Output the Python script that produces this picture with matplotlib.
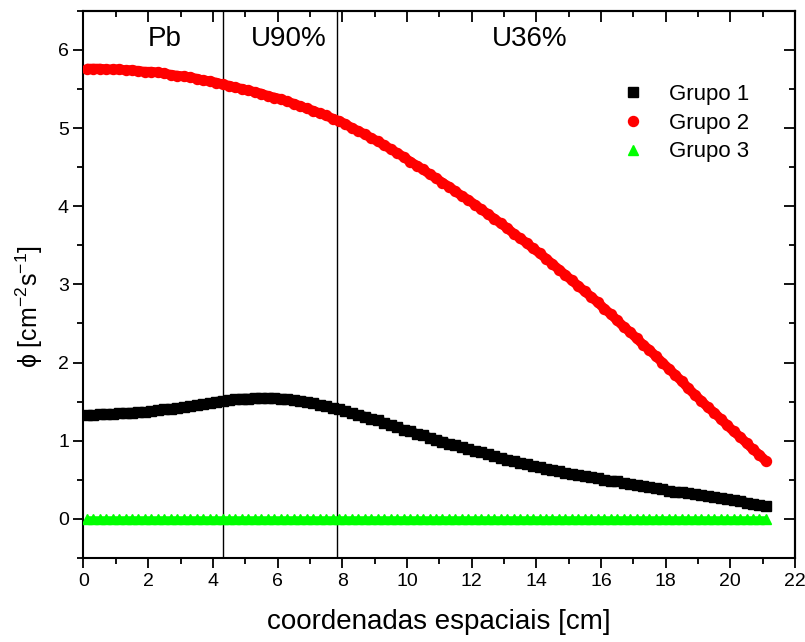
import numpy as np
import matplotlib
matplotlib.use("Agg")
import matplotlib.pyplot as plt
from matplotlib.ticker import MultipleLocator

plt.rcParams['font.family'] = ['Liberation Sans', 'DejaVu Sans']
plt.rcParams['mathtext.fontset'] = 'custom'
plt.rcParams['mathtext.rm'] = 'Liberation Sans'
plt.rcParams['mathtext.default'] = 'regular'

# mesh positions (cm)
x = [0.1, 0.3, 0.5, 0.7, 0.9, 1.1, 1.3, 1.5, 1.7, 1.9,
     2.1, 2.3, 2.5, 2.7, 2.9, 3.1, 3.3, 3.5, 3.7, 3.9,
     4.1, 4.3, 4.5, 4.7, 4.9, 5.1, 5.3, 5.5, 5.7, 5.9,
     6.1, 6.3, 6.5, 6.7, 6.9, 7.1, 7.3, 7.5, 7.7, 7.9,
     8.1, 8.3, 8.5, 8.7, 8.9, 9.1, 9.3, 9.5, 9.7, 9.9,
     10.1, 10.3, 10.5, 10.7, 10.9, 11.1, 11.3, 11.5, 11.7, 11.9,
     12.1, 12.3, 12.5, 12.7, 12.9, 13.1, 13.3, 13.5, 13.7, 13.9,
     14.1, 14.3, 14.5, 14.7, 14.9, 15.1, 15.3, 15.5, 15.7, 15.9,
     16.1, 16.3, 16.5, 16.7, 16.9, 17.1, 17.3, 17.5, 17.7, 17.9,
     18.1, 18.3, 18.5, 18.7, 18.9, 19.1, 19.3, 19.5, 19.7, 19.9,
     20.1, 20.3, 20.5, 20.7, 20.9, 21.1]

grupo1 = [1.33, 1.33, 1.34, 1.34, 1.34, 1.35, 1.35, 1.36, 1.37, 1.37,
          1.38, 1.39, 1.40, 1.41, 1.42, 1.43, 1.44, 1.46, 1.47, 1.48,
          1.50, 1.51, 1.52, 1.53, 1.54, 1.54, 1.55, 1.55, 1.55, 1.55,
          1.54, 1.53, 1.52, 1.51, 1.50, 1.48, 1.46, 1.44, 1.42, 1.40,
          1.38, 1.35, 1.33, 1.31, 1.28, 1.26, 1.23, 1.20, 1.17, 1.14,
          1.12, 1.09, 1.07, 1.04, 1.01, 0.99, 0.96, 0.94, 0.92, 0.89,
          0.87, 0.85, 0.83, 0.80, 0.78, 0.76, 0.74, 0.72, 0.70, 0.68,
          0.66, 0.64, 0.63, 0.61, 0.59, 0.57, 0.56, 0.55, 0.53, 0.52,
          0.50, 0.49, 0.48, 0.46, 0.45, 0.43, 0.42, 0.41, 0.39, 0.38,
          0.36, 0.35, 0.34, 0.33, 0.32, 0.30, 0.29, 0.28, 0.27, 0.26,
          0.24, 0.23, 0.21, 0.19, 0.18, 0.16]

grupo2 = [5.76, 5.76, 5.76, 5.75, 5.75, 5.75, 5.74, 5.74, 5.73, 5.72,
          5.72, 5.71, 5.70, 5.68, 5.67, 5.66, 5.65, 5.63, 5.61, 5.60,
          5.58, 5.56, 5.54, 5.52, 5.50, 5.48, 5.46, 5.44, 5.41, 5.39,
          5.37, 5.34, 5.31, 5.28, 5.25, 5.22, 5.19, 5.16, 5.12, 5.09,
          5.05, 5.00, 4.96, 4.92, 4.87, 4.83, 4.78, 4.73, 4.68, 4.63,
          4.57, 4.52, 4.47, 4.41, 4.36, 4.30, 4.25, 4.19, 4.13, 4.08,
          4.02, 3.96, 3.90, 3.84, 3.78, 3.72, 3.65, 3.59, 3.53, 3.46,
          3.40, 3.33, 3.26, 3.19, 3.12, 3.05, 2.98, 2.91, 2.84, 2.77,
          2.69, 2.62, 2.54, 2.46, 2.39, 2.31, 2.23, 2.16, 2.08, 2.00,
          1.92, 1.84, 1.76, 1.67, 1.59, 1.51, 1.43, 1.36, 1.28, 1.20,
          1.12, 1.05, 0.97, 0.89, 0.82, 0.74]

grupo3 = [0.0, 0.0, 0.0, 0.0, 0.0, 0.0, 0.0, 0.0, 0.0, 0.0,
          0.0, 0.0, 0.0, 0.0, 0.0, 0.0, 0.0, 0.0, 0.0, 0.0,
          0.0, 0.0, 0.0, 0.0, 0.0, 0.0, 0.0, 0.0, 0.0, 0.0,
          0.0, 0.0, 0.0, 0.0, 0.0, 0.0, 0.0, 0.0, 0.0, 0.0,
          0.0, 0.0, 0.0, 0.0, 0.0, 0.0, 0.0, 0.0, 0.0, 0.0,
          0.0, 0.0, 0.0, 0.0, 0.0, 0.0, 0.0, 0.0, 0.0, 0.0,
          0.0, 0.0, 0.0, 0.0, 0.0, 0.0, 0.0, 0.0, 0.0, 0.0,
          0.0, 0.0, 0.0, 0.0, 0.0, 0.0, 0.0, 0.0, 0.0, 0.0,
          0.0, 0.0, 0.0, 0.0, 0.0, 0.0, 0.0, 0.0, 0.0, 0.0,
          0.0, 0.0, 0.0, 0.0, 0.0, 0.0, 0.0, 0.0, 0.0, 0.0,
          0.0, 0.0, 0.0, 0.0, 0.0, 0.0]

# material boundaries and region names
interfaces = [4.3, 7.85]
regions = ['Pb', 'U90%', 'U36%']
region_x = [2.5, 6.35, 13.8]

fig = plt.figure(figsize=(8.05, 6.42), dpi=100)
ax = fig.add_axes([0.1037, 0.1308, 0.8839, 0.8525])

series = [
    (grupo1, 's', 6.6, 'black', 'Grupo 1', 6.8),
    (grupo2, 'o', 7.2, '#ff0000', 'Grupo 2', 7.0),
    (grupo3, '^', 7.0, '#00ff00', 'Grupo 3', 4.0),
]
for ys, mk, ms, col, lab, band in series:
    # thick band behind the markers so the dense mesh reads as one trace
    ax.plot(x, ys, '-', lw=band, color=col, solid_capstyle='butt', zorder=3)
    ax.plot(x, ys, linestyle='none', marker=mk, ms=ms, color=col, mec=col,
            label=lab, zorder=3)

for xi in interfaces:
    ax.axvline(xi, color='black', lw=1.0, zorder=2)

for name, xr in zip(regions, region_x):
    ax.text(xr, 6.14, name, ha='center', va='center', fontsize=20)

ax.set_xlim(0, 22)
ax.set_ylim(-0.5, 6.5)
ax.xaxis.set_major_locator(MultipleLocator(2))
ax.xaxis.set_minor_locator(MultipleLocator(1))
ax.yaxis.set_major_locator(MultipleLocator(1))
ax.yaxis.set_minor_locator(MultipleLocator(0.5))

ax.tick_params(which='both', direction='out', width=1.3, labelsize=14)
ax.tick_params(which='major', length=7)
ax.tick_params(which='minor', length=4)
for sp in ax.spines.values():
    sp.set_linewidth(1.5)

# mirrored ticks on top/right point inward
ax2 = ax.secondary_xaxis('top')
ax2.xaxis.set_major_locator(MultipleLocator(2))
ax2.xaxis.set_minor_locator(MultipleLocator(1))
ax2.tick_params(which='both', direction='in', width=1.3, labeltop=False)
ax2.tick_params(which='major', length=8)
ax2.tick_params(which='minor', length=4.5)
ax2.spines['top'].set_linewidth(1.5)
ay2 = ax.secondary_yaxis('right')
ay2.yaxis.set_major_locator(MultipleLocator(1))
ay2.yaxis.set_minor_locator(MultipleLocator(0.5))
ay2.tick_params(which='both', direction='in', width=1.3, labelright=False)
ay2.tick_params(which='major', length=8)
ay2.tick_params(which='minor', length=4.5)
ay2.spines['right'].set_linewidth(1.5)

ax.set_xlabel('coordenadas espaciais [cm]', fontsize=20, labelpad=14)
ax.set_ylabel(r'$\phi$ [cm$^{-2}$s$^{-1}$]', fontsize=18)
ax.yaxis.set_label_coords(-0.054, 0.46)

ax.legend(loc='upper left', bbox_to_anchor=(0.728, 0.903), frameon=False,
          fontsize=16, handlelength=1.0, handletextpad=1.12, labelspacing=0.35,
          borderpad=0.4)

fig.savefig('out.png', dpi=100)
